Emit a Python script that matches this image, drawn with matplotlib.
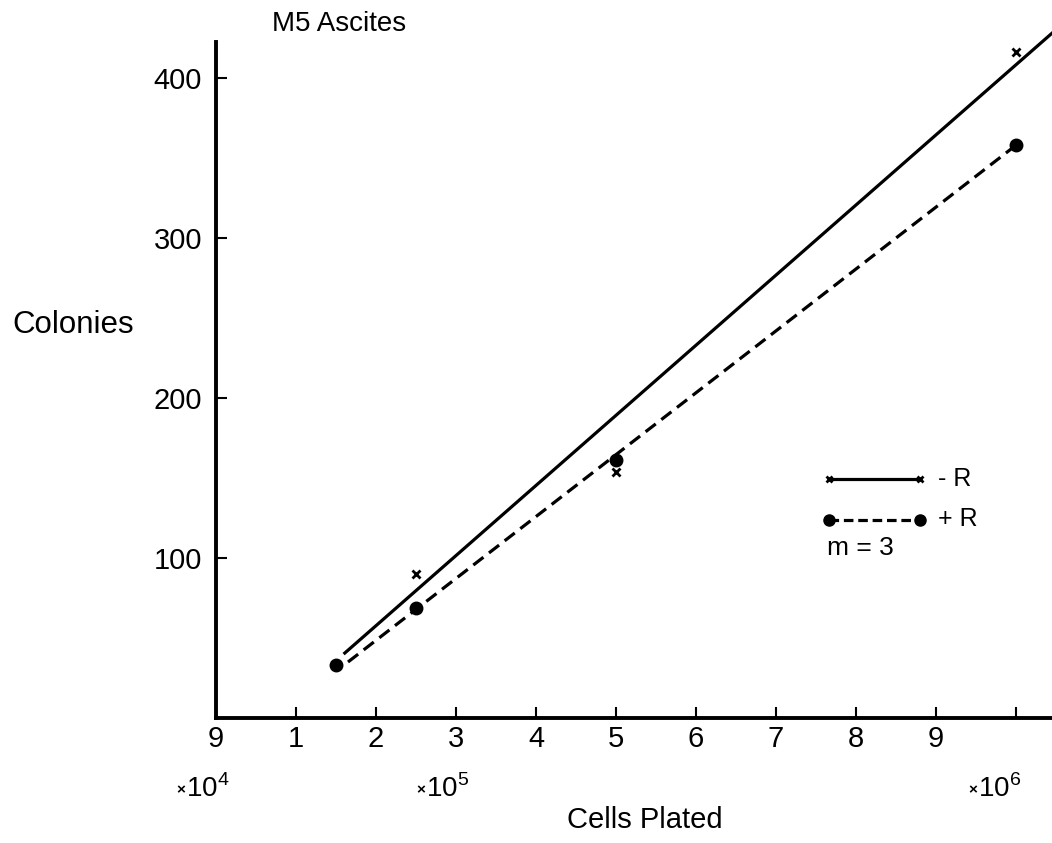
import matplotlib
matplotlib.use('Agg')
import matplotlib.pyplot as plt

plt.rcParams['font.family'] = ['Liberation Sans', 'DejaVu Sans']
plt.rcParams['mathtext.fontset'] = 'custom'
plt.rcParams['mathtext.rm'] = 'Liberation Sans'

# Cells plated, in units of 1e5 (axis position 0 is labelled 9 x 10^4)
minus_r_x = [2.5, 5.0, 10.0]
minus_r_y = [90, 154, 416]
plus_r_x = [1.5, 2.5, 5.0, 10.0]
plus_r_y = [33, 69, 161, 358]

# fitted lines (end points)
minus_fit_x = [1.61, 10.45]
minus_fit_y = [40.6, 428]
plus_fit_x = [1.65, 10.0]
plus_fit_y = [35, 358]

tick_pos = [0, 1, 2, 3, 4, 5, 6, 7, 8, 9, 10]
tick_labels = ['9', '1', '2', '3', '4', '5', '6', '7', '8', '9', '']
y_ticks = [100, 200, 300, 400]
decades = ['4', '5', '6']

fig = plt.figure(figsize=(10.52, 8.43), dpi=100)
ax = fig.add_axes([216 / 1052, 1 - 718 / 843, 1 - 216 / 1052, (718 - 42) / 843])
ax.set_xlim(0, 10.45)
ax.set_ylim(0, 422.5)

ax.plot(minus_fit_x, minus_fit_y, color='black', lw=2.3, clip_on=False)
ax.plot(plus_fit_x, plus_fit_y, color='black', lw=2.3, ls=(0, (4, 2.2)))
ax.plot(minus_r_x, minus_r_y, 'x', color='black', ms=6, mew=2)
ax.plot(plus_r_x, plus_r_y, 'o', color='black', ms=9)

for s in ['top', 'right']:
    ax.spines[s].set_visible(False)
for s in ['left', 'bottom']:
    ax.spines[s].set_linewidth(2.8)

ax.set_xticks(tick_pos)
ax.set_xticklabels(tick_labels)
ax.set_yticks(y_ticks)
ax.tick_params(direction='in', length=8, width=1.5, labelsize=21, pad=10)
ax.tick_params(axis='x', pad=5)

# decade markers under the axis
for px, d in zip([176, 416, 968], decades):
    fig.text(px / 1052, 1 - 790 / 843, '\u00d7', fontsize=11, va='center', fontweight='bold')
    fig.text((px + 10) / 1052, 1 - 789 / 843, '10$^{\\mathregular{' + d + '}}$',
             fontsize=20, va='center')

fig.text(645 / 1052, 1 - 820 / 843, 'Cells Plated', fontsize=21, ha='center', va='center')
fig.text(12 / 1052, 1 - 325 / 843, 'Colonies', fontsize=22.5, ha='left', va='center')
fig.text(272 / 1052, 1 - 24 / 843, 'M5 Ascites', fontsize=20, ha='left', va='center')

# hand-drawn legend
ax.plot([7.66, 8.8], [149.4, 149.4], color='black', lw=2.3)
ax.plot([7.66, 8.8], [149.4, 149.4], 'x', color='black', ms=5, mew=2)
ax.plot([7.66, 8.8], [123.8, 123.8], color='black', lw=2.3, ls=(0, (3, 1.5)))
ax.plot([7.66, 8.8], [123.8, 123.8], 'o', color='black', ms=8)
ax.text(9.03, 149.4, '- R', fontsize=18, va='center')
ax.text(9.03, 124.5, '+ R', fontsize=18, va='center')
ax.text(7.64, 106, 'm = 3', fontsize=19, va='center')

fig.savefig('out.png', dpi=100)
